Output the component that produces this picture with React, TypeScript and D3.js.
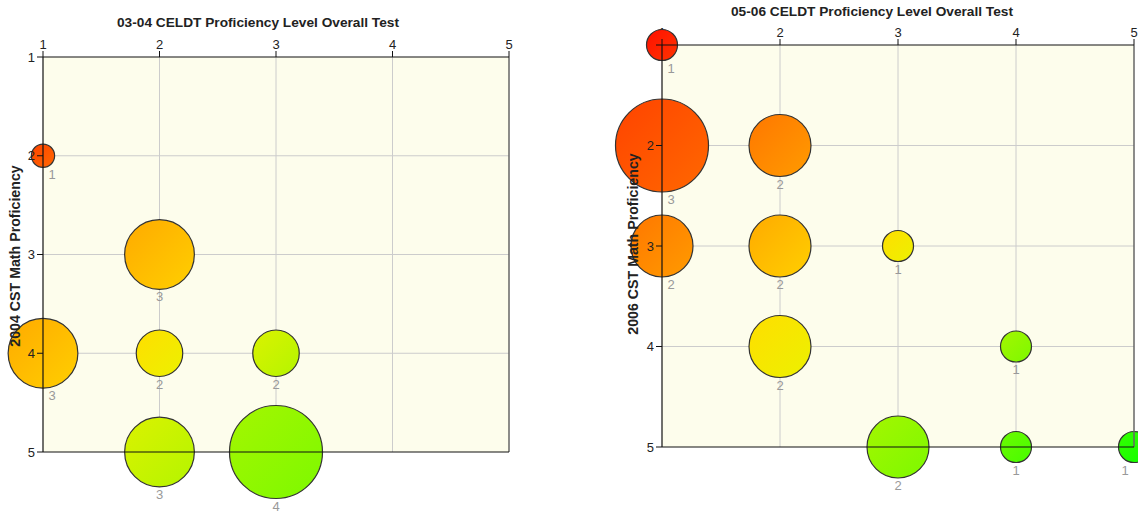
import React from "react";
import * as d3 from "d3";

// ---- Data ----
const leftTitle = "03-04 CELDT Proficiency Level Overall Test";
const leftYTitle = "2004 CST Math Proficiency";
const leftX = [1, 2, 1, 2, 3, 2, 3];
const leftY = [2, 3, 4, 4, 4, 5, 5];
const leftCount = [1, 3, 3, 2, 2, 3, 4];

const rightTitle = "05-06 CELDT Proficiency Level Overall Test";
const rightYTitle = "2006 CST Math Proficiency";
const rightX = [1, 1, 2, 1, 2, 3, 2, 4, 3, 4, 5];
const rightY = [1, 2, 2, 3, 3, 3, 4, 4, 5, 5, 5];
const rightCount = [1, 3, 2, 2, 2, 1, 2, 1, 2, 1, 1];

const tickValues = [1, 2, 3, 4, 5];

const FONT = "'Liberation Sans', Arial, sans-serif";

type Layout = {
  x0: number; x1: number; y0: number; y1: number;
  titleX: number; titleY: number; yTitleX: number; yTitleY: number;
};

const colorScale = d3
  .scaleLinear<string>()
  .domain([2, 6, 10])
  .range(["#ff2200", "#fff000", "#22ff00"])
  .interpolate(d3.interpolateRgb);

function Bubble(props: {
  id: string; title: string; yTitle: string; xs: number[]; ys: number[]; counts: number[]; L: Layout;
}) {
  const { id, title, yTitle, xs, ys, counts, L } = props;
  const x = d3.scaleLinear().domain([1, 5]).range([L.x0, L.x1]);
  const y = d3.scaleLinear().domain([1, 5]).range([L.y0, L.y1]);
  const maxC = d3.max(counts) as number;
  const r = d3.scaleLinear().domain([0, maxC]).range([0, 46.5]);
  const pts = xs.map((xv, i) => ({ xv, yv: ys[i], c: counts[i], i }));
  const xTick = (t: number) => (
    <text key={"xl" + t} x={x(t)} y={L.y0 - 8} textAnchor="middle" fontSize={13} fontFamily={FONT} fill="#222">
      {t}
    </text>
  );
  const yTick = (t: number) => (
    <text key={"yl" + t} x={L.x0 - 8} y={y(t) + 4.5} textAnchor="end" fontSize={13} fontFamily={FONT} fill="#222">
      {t}
    </text>
  );
  return (
    <g>
      <defs>
        {pts.map((p) => {
          const c0 = colorScale(p.xv + p.yv - 0.35);
          const c1 = colorScale(p.xv + p.yv + 0.35);
          return (
            <linearGradient key={p.i} id={`${id}-g${p.i}`} x1="0" y1="0" x2="1" y2="1">
              <stop offset="0" stopColor={c0} />
              <stop offset="1" stopColor={c1} />
            </linearGradient>
          );
        })}
      </defs>
      <rect x={L.x0} y={L.y0} width={L.x1 - L.x0} height={L.y1 - L.y0} fill="#fdfdec" />
      {tickValues.slice(1, 4).map((t) => (
        <line key={"gx" + t} x1={x(t)} x2={x(t)} y1={L.y0} y2={L.y1} stroke="#cccccc" strokeWidth={1} />
      ))}
      {tickValues.slice(1, 4).map((t) => (
        <line key={"gy" + t} x1={L.x0} x2={L.x1} y1={y(t)} y2={y(t)} stroke="#cccccc" strokeWidth={1} />
      ))}
      {/* corner tick labels sit beneath the bubbles */}
      {xTick(1)}
      {yTick(1)}
      {pts.map((p) => (
        <circle
          key={p.i}
          cx={x(p.xv)}
          cy={y(p.yv)}
          r={r(p.c)}
          fill={`url(#${id}-g${p.i})`}
          stroke="#333"
          strokeWidth={1.2}
        />
      ))}
      {/* frame */}
      <line x1={L.x1} x2={L.x1} y1={L.y0} y2={L.y1} stroke="#666" strokeWidth={1.5} />
      <line x1={L.x0} x2={L.x1} y1={L.y0} y2={L.y0} stroke="#111" strokeWidth={1.2} />
      <line x1={L.x0} x2={L.x1} y1={L.y1} y2={L.y1} stroke="#111" strokeWidth={1.2} />
      <line x1={L.x0} x2={L.x0} y1={L.y0} y2={L.y1} stroke="#111" strokeWidth={1.2} />
      {/* x ticks */}
      {tickValues.map((t) => (
        <line key={"xt" + t} x1={x(t)} x2={x(t)} y1={L.y0 - 6} y2={L.y0} stroke="#111" />
      ))}
      {tickValues.slice(1).map((t) => xTick(t))}
      {/* y ticks */}
      {tickValues.map((t) => (
        <line key={"yt" + t} x1={L.x0 - 6} x2={L.x0} y1={y(t)} y2={y(t)} stroke="#111" />
      ))}
      {tickValues.slice(1).map((t) => yTick(t))}
      {/* counts */}
      {pts.map((p) => {
        const lx = Math.max(L.x0 + 9, Math.min(L.x1 - 9, x(p.xv)));
        return (
          <text
            key={"c" + p.i}
            x={lx}
            y={y(p.yv) + r(p.c) + 12}
            textAnchor="middle"
            fontSize={13}
            fontFamily={FONT}
            fill="#999"
          >
            {p.c}
          </text>
        );
      })}
      <text x={L.titleX} y={L.titleY} textAnchor="middle" fontSize={13.7} fontWeight="bold" fontFamily={FONT} fill="#222">
        {title}
      </text>
      <text
        transform={`translate(${L.yTitleX},${L.yTitleY}) rotate(-90)`}
        textAnchor="middle"
        fontSize={14.2}
        fontWeight="bold"
        fontFamily={FONT}
        fill="#222"
      >
        {yTitle}
      </text>
    </g>
  );
}

export default function App() {
  const leftL: Layout = { x0: 43, x1: 509, y0: 57, y1: 452, titleX: 258, titleY: 27, yTitleX: 20, yTitleY: 256 };
  const rightL: Layout = { x0: 662, x1: 1134, y0: 45, y1: 447, titleX: 872, titleY: 16, yTitleX: 638, yTitleY: 244 };
  return (
    <svg
      width={1138}
      height={512}
      style={{ position: "absolute", left: 0, top: 0, background: "#fff" }}
    >
      <Bubble id="L" title={leftTitle} yTitle={leftYTitle} xs={leftX} ys={leftY} counts={leftCount} L={leftL} />
      <Bubble id="R" title={rightTitle} yTitle={rightYTitle} xs={rightX} ys={rightY} counts={rightCount} L={rightL} />
    </svg>
  );
}
